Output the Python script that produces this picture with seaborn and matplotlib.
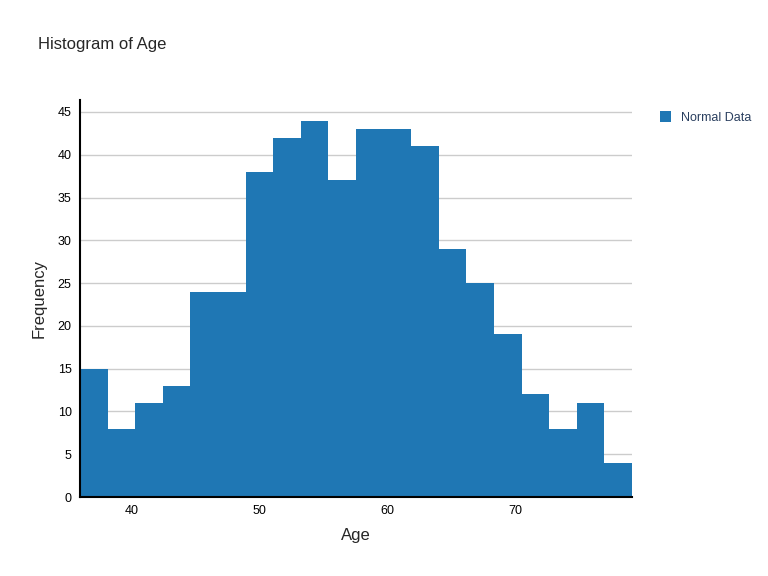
import matplotlib
matplotlib.use("Agg")
import matplotlib.pyplot as plt
import seaborn as sns
import numpy as np
import pandas as pd

counts = [15, 8, 11, 13, 24, 24, 38, 42, 44, 37, 43, 43, 41, 29, 25, 19, 12, 8, 11, 4]
x_min, x_max = 36.0, 79.1
edges = np.linspace(x_min, x_max, len(counts) + 1)
centers = (edges[:-1] + edges[1:]) / 2
df = pd.DataFrame({"Age": centers, "count": counts})

sns.set_style("white")
plt.rcParams['font.family'] = ['Liberation Sans', 'DejaVu Sans']
fig = plt.figure(figsize=(7.68, 5.76), dpi=100)
ax = fig.add_axes([80/768, 1-497/576, (632-80)/768, (497-100)/576])
sns.histplot(data=df, x="Age", weights="count", bins=edges.tolist(), color="#1f77b4",
             alpha=1, edgecolor="none", linewidth=0, ax=ax, label="Normal Data")
ax.set_xlim(x_min, x_max)
ax.set_ylim(0, 46.4)
ax.set_yticks(range(0, 46, 5))
ax.set_xticks([40, 50, 60, 70])
ax.grid(axis="y", color="#cccccc", linewidth=1)
ax.set_axisbelow(True)
for s in ["top", "right"]:
    ax.spines[s].set_visible(False)
ax.spines["left"].set_color("black"); ax.spines["left"].set_linewidth(1.5)
ax.spines["bottom"].set_color("black"); ax.spines["bottom"].set_linewidth(1.5)
ax.tick_params(labelsize=9, colors="black", length=0, pad=6)
ax.set_xlabel("Age", fontsize=12, labelpad=8)
ax.set_ylabel("Frequency", fontsize=12, labelpad=8)
fig.text(38/768, 1-45/576, "Histogram of Age", fontsize=12, va="center")
ax.legend(loc="upper left", bbox_to_anchor=(1.03, 1.0), frameon=False, fontsize=9,
          handlelength=0.9, handleheight=0.9, labelcolor="#2a3f5f")
fig.savefig("out.png", dpi=100)
